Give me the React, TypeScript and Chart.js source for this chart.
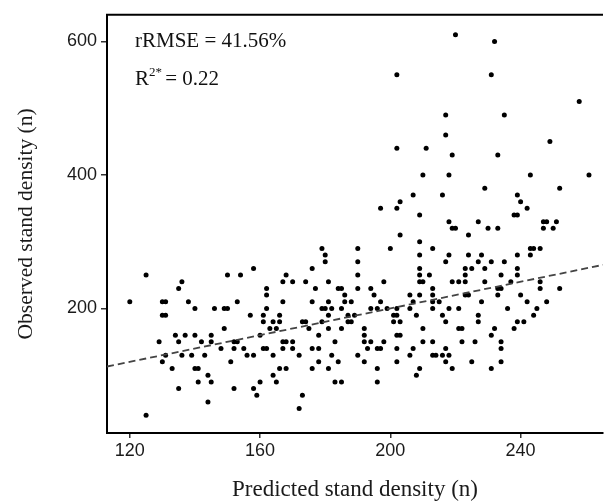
import React, { useEffect, useRef } from 'react';
import { Chart, registerables } from 'chart.js';

Chart.register(...registerables);

// Predicted (x) and observed (y) stand density
const predicted = [
  125, 136, 135, 120, 130, 131, 138, 130, 131, 140, 134, 137, 140, 129, 135, 131, 136, 139, 130, 133, 140, 141, 141, 135, 125,
  158, 150, 154, 168, 167, 170, 162, 162, 153, 167, 146, 149, 150, 162, 157, 161, 166, 161, 164, 166, 149, 163, 165, 145, 160,
  142, 145, 152, 153, 167, 168, 170, 148, 152, 155, 161, 162, 167, 170, 143, 156, 158, 164, 172, 151, 166, 168, 144, 164, 145,
  160, 165, 152, 158, 159, 144, 172,
  202, 197, 202, 203, 203, 200, 179, 180, 180, 176, 190, 190, 190, 190, 174, 181, 198, 177, 184, 185, 194, 186, 195, 176, 181,
  186, 188, 197, 179, 180, 182, 185, 194, 196, 199, 202, 181, 187, 189, 201, 202, 173, 174, 179, 187, 188, 201, 203, 175, 181,
  185, 192, 202, 203, 178, 192, 183, 192, 194, 198, 202, 176, 178, 193, 196, 197, 182, 190, 178, 184, 192, 202, 176, 181, 196,
  183, 185, 196, 173,
  217, 217, 211, 219, 233, 210, 218, 229, 207, 216, 209, 218, 227, 219, 220, 230, 233, 224, 209, 213, 209, 218, 224, 228, 217,
  227, 231, 209, 223, 225, 229, 209, 212, 223, 234, 209, 210, 219, 221, 223, 229, 213, 206, 209, 213, 223, 224, 207, 213, 215,
  228, 206, 213, 218, 221, 208, 216, 227, 217, 227, 210, 221, 222, 232, 231, 210, 213, 222, 226, 207, 217, 206, 213, 214, 216,
  218, 217, 225, 209, 219, 231, 208,
  258, 235, 249, 243, 261, 252, 239, 240, 242, 238, 239, 247, 248, 251, 247, 250, 243, 244, 246, 243, 239, 235, 239, 239, 237,
  246, 233, 234, 246, 252, 233, 240, 242, 248, 236, 245, 244, 239, 241, 238, 234, 234, 234,
  220, 232, 202, 231,
];

const observed = [
  250, 240, 230, 210, 210, 210, 210, 190, 190, 200, 160, 160, 160, 150, 150, 130, 130, 130, 120, 110, 110, 110, 90, 80, 40,
  260, 250, 250, 250, 240, 240, 230, 220, 210, 210, 200, 200, 200, 200, 190, 190, 190, 180, 180, 180, 170, 170, 170, 160, 160,
  150, 150, 150, 150, 150, 150, 150, 140, 140, 140, 140, 140, 140, 140, 130, 130, 130, 130, 130, 120, 110, 110, 100, 100, 90,
  90, 90, 80, 80, 70, 60, 50,
  440, 350, 350, 360, 310, 290, 290, 280, 270, 260, 290, 270, 250, 230, 240, 240, 240, 230, 230, 230, 230, 220, 220, 210, 210,
  210, 210, 210, 200, 200, 200, 200, 200, 200, 200, 200, 190, 190, 190, 190, 190, 180, 180, 180, 180, 180, 180, 180, 170, 170,
  170, 170, 160, 160, 160, 160, 150, 150, 150, 150, 140, 140, 140, 140, 140, 140, 130, 130, 120, 120, 120, 120, 110, 110, 110,
  90, 90, 90, 70,
  490, 460, 440, 430, 430, 400, 400, 380, 370, 370, 340, 330, 330, 320, 320, 320, 320, 310, 300, 290, 280, 280, 280, 280, 270,
  270, 270, 260, 260, 260, 260, 250, 250, 250, 250, 240, 240, 240, 240, 240, 240, 230, 220, 220, 220, 220, 220, 210, 210, 210,
  210, 200, 200, 200, 200, 190, 190, 190, 180, 180, 170, 170, 170, 170, 160, 150, 150, 150, 150, 140, 140, 130, 130, 130, 130,
  130, 120, 120, 110, 110, 110, 100,
  510, 490, 450, 400, 400, 380, 370, 360, 350, 340, 340, 330, 330, 330, 320, 320, 290, 290, 290, 280, 280, 270, 260, 250, 240,
  240, 230, 230, 230, 230, 220, 220, 210, 210, 200, 200, 190, 180, 180, 170, 150, 140, 120,
  610, 600, 550, 550,
];

const xTicks = [120, 160, 200, 240];
const yTicks = [200, 400, 600];
const xRange = [113, 265.3];
const yRange = [13.4, 640];
const oneToOne = [113, 265.3];

const xTitle = 'Predicted stand density (n)';
const yTitle = 'Observed stand density (n)';
const statLine1 = 'rRMSE = 41.56%';
const statR = 'R';
const statSup = '2*';
const statRest = ' = 0.22';

const annotatePlugin = {
  id: 'annotate',
  afterDraw(chart: any) {
    const { ctx, chartArea } = chart;
    ctx.save();
    ctx.strokeStyle = '#000';
    ctx.lineWidth = 2;
    ctx.beginPath();
    ctx.moveTo(chartArea.left - 1, chartArea.top);
    ctx.lineTo(chartArea.right, chartArea.top);
    ctx.stroke();

    ctx.fillStyle = '#111';
    ctx.textBaseline = 'alphabetic';
    ctx.textAlign = 'left';
    ctx.font = '21px "Liberation Serif"';
    ctx.fillText(statLine1, 135, 47);
    ctx.fillText(statR, 135, 85);
    const wR = ctx.measureText(statR).width;
    ctx.font = '13px "Liberation Serif"';
    ctx.fillText(statSup, 135 + wR, 76);
    const wS = ctx.measureText(statSup).width;
    ctx.font = '21px "Liberation Serif"';
    ctx.fillText(statRest, 135 + wR + wS - 2, 85);
    ctx.restore();
  },
};

export default function App() {
  const ref = useRef<HTMLCanvasElement | null>(null);

  useEffect(() => {
    if (!ref.current) return;
    const points = predicted.map((x, i) => ({ x, y: observed[i] }));
    const line = oneToOne.map((v) => ({ x: v, y: v }));
    const chart = new Chart(ref.current, {
      type: 'scatter',
      data: {
        datasets: [
          {
            data: line,
            showLine: true,
            borderColor: '#444',
            borderWidth: 1.8,
            borderDash: [7, 4],
            pointRadius: 0,
            fill: false,
          } as any,
          {
            data: points,
            pointRadius: 2.5,
            pointBackgroundColor: '#000',
            pointBorderWidth: 0,
            showLine: false,
          } as any,
        ],
      },
      options: {
        animation: false,
        responsive: false,
        devicePixelRatio: 1,
        layout: { padding: { top: 13, left: 0, right: 0, bottom: 0 } },
        plugins: { legend: { display: false }, tooltip: { enabled: false } },
        scales: {
          x: {
            type: 'linear',
            min: xRange[0],
            max: xRange[1],
            afterFit: (s: any) => { s.height = 68; },
            afterBuildTicks: (s: any) => { s.ticks = xTicks.map((v) => ({ value: v })); },
            border: { display: true, color: '#000', width: 2 },
            grid: { display: true, drawOnChartArea: false, drawTicks: true, tickLength: 5, tickColor: '#333', lineWidth: 1.5 },
            ticks: {
              color: '#1a1a1a',
              padding: 2,
              font: { family: '"Liberation Sans"', size: 18 },
              maxRotation: 0,
              callback: (v: any) => String(v),
            },
            title: {
              display: true,
              text: xTitle,
              color: '#1a1a1a',
              font: { family: '"Liberation Serif"', size: 23, lineHeight: 1 },
              padding: { top: 0, bottom: 0 },
            },
          },
          y: {
            type: 'linear',
            min: yRange[0],
            max: yRange[1],
            afterFit: (s: any) => { s.width = 107; },
            afterBuildTicks: (s: any) => { s.ticks = yTicks.map((v) => ({ value: v })); },
            border: { display: true, color: '#000', width: 2 },
            grid: { display: true, drawOnChartArea: false, drawTicks: true, tickLength: 6, tickColor: '#333', lineWidth: 1.5 },
            ticks: {
              color: '#1a1a1a',
              padding: 4,
              font: { family: '"Liberation Sans"', size: 18 },
              callback: (v: any) => String(v),
            },
            title: {
              display: true,
              text: yTitle,
              color: '#1a1a1a',
              font: { family: '"Liberation Serif"', size: 21.5, lineHeight: 1 },
              padding: { top: 16, bottom: 0 },
            },
          },
        },
      },
      plugins: [annotatePlugin],
    });
    return () => chart.destroy();
  }, []);

  return (
    <div style={{ position: 'absolute', left: 0, top: 0, width: 607, height: 501, background: '#fff' }}>
      <canvas ref={ref} width={607} height={501} style={{ display: 'block', width: 607, height: 501 }} />
    </div>
  );
}
